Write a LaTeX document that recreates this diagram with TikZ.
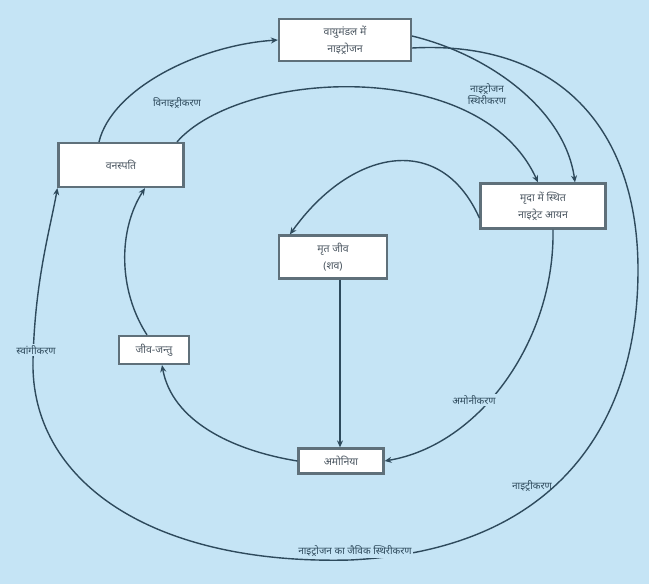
\documentclass[tikz,border=0pt]{standalone}
\usepackage{fontspec}
\newfontfamily\hindi[Script=Devanagari]{Noto Sans}
\usetikzlibrary{arrows.meta}
\definecolor{bg}{HTML}{C5E4F5}
\definecolor{ln}{HTML}{2E4A5C}
\definecolor{bd}{HTML}{5F707A}
\definecolor{tx}{HTML}{4A5560}
\begin{document}
\begin{tikzpicture}[x=1pt,y=-1pt,
 box/.style={draw=bd,line width=2.2pt,fill=white,inner sep=2pt,align=center,font=\hindi\fontsize{10.5}{17}\selectfont,text=tx},
 lbl/.style={font=\hindi\fontsize{10}{12}\selectfont,text=ln,align=center,inner sep=1.5pt},
 lblf/.style={lbl,fill=bg},
 arr/.style={draw=ln,line width=1.4pt,-{Stealth[length=7pt,width=6pt]}}]
\fill[bg] (0,0) rectangle (649,584);
\useasboundingbox (0,0) rectangle (649,584);

\node[box,minimum width=132pt,minimum height=42pt] (A) at (345,40) {वायुमंडल में\\नाइट्रोजन};
\node[box,minimum width=125pt,minimum height=44pt] (B) at (121,165) {वनस्पति};
\node[box,minimum width=125pt,minimum height=45pt] (C) at (543,206) {मृदा में स्थित\\नाइट्रेट आयन};
\node[box,minimum width=108pt,minimum height=43pt] (D) at (333,257) {मृत जीव\\(शव)};
\node[box,minimum width=70pt,minimum height=28pt] (E) at (154,350) {जीव-जन्तु};
\node[box,minimum width=85pt,minimum height=25pt] (F) at (341,461) {अमोनिया};

\coordinate (r1) at (638,270);
\coordinate (r2) at (350,560);
\coordinate (r3) at (33,360);

% B -> A
\draw[arr] ([xshift=-22pt]B.north) .. controls (112,88) and (200,45) .. (A.west);
\node[lbl] (l1) at (177,103) {विनाइट्रीकरण};

% B -> C
\draw[arr] ([xshift=56pt]B.north) .. controls (240,70) and (480,55) .. ([xshift=-5pt]C.north);

% A -> C
\draw[arr] ([yshift=4pt]A.east) .. controls (490,55) and (565,110) .. ([xshift=32pt]C.north);
\node[lbl] (l2) at (487,94) {नाइट्रोजन\\स्थिरीकरण};

% outer loop A -> B
\draw[arr] ([yshift=-8pt]A.east) .. controls (560,40) and (638,130) .. (r1)
  .. controls (638,420) and (560,550) .. (r2)
  .. controls (150,565) and (30,480) .. (r3)
  .. controls (35,280) and (50,230) .. (B.south west);
\node[lbl] (l3) at (532,486) {नाइट्रीकरण};
\node[lblf] (l4) at (355,551) {नाइट्रोजन का जैविक स्थिरीकरण};
\node[lblf] (l5) at (36,350) {स्वांगीकरण};

% C -> D
\draw[arr] ([yshift=-12pt]C.west) .. controls (440,130) and (350,150) .. ([xshift=12pt]D.north west);

% C -> F
\draw[arr] ([xshift=10pt]C.south) .. controls (555,340) and (480,445) .. (F.east);
\node[lblf] (l6) at (474,400) {अमोनीकरण};

% D -> F
\draw[arr] ([xshift=7pt]D.south) -- ([xshift=-1pt]F.north);

% F -> E
\draw[arr] (F.west) .. controls (230,450) and (172,420) .. ([xshift=8pt]E.south);

% E -> B
\draw[arr] ([xshift=-7pt]E.north) .. controls (118,290) and (118,230) .. ([xshift=24pt]B.south);
\end{tikzpicture}
\end{document}
